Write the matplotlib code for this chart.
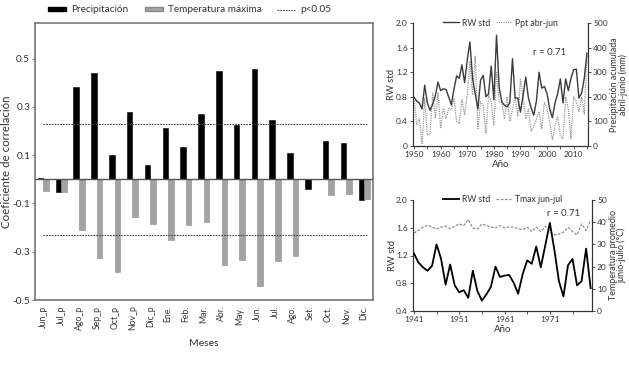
import matplotlib
matplotlib.use("Agg")
import matplotlib.pyplot as plt
from matplotlib.patches import Patch
from matplotlib.lines import Line2D
import numpy as np

plt.rcParams['font.family'] = ['Lato', 'DejaVu Sans']

# ---------------- data ----------------
meses = ["Jun_p", "Jul_p", "Ago_p", "Sep_p", "Oct_p", "Nov_p", "Dic_p", "Ene.", "Feb.",
         "Mar.", "Abr.", "May.", "Jun.", "Jul.", "Ago.", "Set.", "Oct.", "Nov.", "Dic."]
precipitacion = [0.007, -0.053, 0.38, 0.44, 0.10, 0.28, 0.057, 0.212, 0.134,
                 0.272, 0.447, 0.225, 0.455, 0.246, 0.109, -0.041, 0.157, 0.150, -0.086]
temperatura = [-0.049, -0.053, -0.21, -0.327, -0.386, -0.156, -0.186, -0.253, -0.189,
               -0.177, -0.354, -0.333, -0.444, -0.339, -0.316, 0.0, -0.067, -0.061, -0.08]
p_umbral = 0.23
yticks_corr = [-0.5, -0.3, -0.1, 0.1, 0.3, 0.5]

anios_ppt = list(range(1950, 2016))
rw_ppt = [0.79, 0.73, 0.70, 0.60, 0.99, 0.70, 0.58, 0.68, 0.82, 1.04,
          0.90, 0.93, 0.92, 0.80, 0.67, 0.92, 1.14, 1.10, 1.32, 1.03,
          1.40, 1.69, 1.10, 0.85, 0.60, 1.07, 1.15, 0.80, 0.85, 1.30,
          0.75, 1.80, 0.95, 0.72, 0.66, 0.64, 0.70, 1.42, 0.78, 0.78,
          0.55, 0.83, 1.12, 0.78, 0.62, 0.50, 0.73, 1.20, 0.94, 0.97,
          0.85, 0.60, 0.46, 0.70, 0.85, 1.09, 0.70, 1.09, 0.90, 1.10,
          1.24, 1.25, 0.78, 0.86, 1.10, 1.51]
ppt = [194, 85, 112, 10, 194, 44, 50, 215, 112, 215,
       71, 153, 112, 153, 146, 194, 100, 92, 187, 126,
       208, 344, 208, 365, 71, 180, 167, 50, 208, 180,
       85, 303, 180, 175, 110, 200, 100, 150, 200, 120,
       270, 200, 110, 150, 60, 75, 110, 140, 70, 180,
       150, 100, 25, 80, 120, 40, 30, 200, 150, 30,
       200, 180, 140, 200, 130, 370]

anios_tmax = list(range(1941, 1981))
rw_tmax = [1.23, 1.10, 1.03, 0.98, 1.05, 1.36, 1.15, 0.78, 1.07, 0.77,
           0.67, 0.70, 0.59, 0.98, 0.69, 0.55, 0.64, 0.75, 1.04, 0.89,
           0.91, 0.92, 0.81, 0.65, 0.93, 1.13, 1.08, 1.33, 1.03, 1.35,
           1.67, 1.28, 0.83, 0.61, 1.06, 1.15, 0.77, 0.83, 1.30, 0.73]
tmax = [35.1, 36.3, 37.8, 38.6, 37.8, 36.9, 37.8, 38.2, 37.1, 38.2,
        39.2, 38.5, 41.2, 37.4, 36.9, 39.2, 38.5, 37.8, 37.4, 38.5,
        37.4, 37.8, 37.8, 37.1, 36.6, 37.8, 35.8, 37.8, 35.8, 38.2,
        35.8, 34.3, 34.6, 35.5, 37.7, 35.8, 34.3, 39.2, 36.3, 40.8]

# ---------------- figure ----------------
W, H = 629, 380
fig = plt.figure(figsize=(W / 100, H / 100), dpi=100)
TXT = '#333333'

def rect(x0, y0, x1, y1):
    return [x0 / W, 1 - y1 / H, (x1 - x0) / W, (y1 - y0) / H]

# ---- left: bar chart ----
ax = fig.add_axes(rect(35, 23, 373, 300))
x = np.arange(len(meses))
bw = 0.31
ax.bar(x, precipitacion, width=-bw, align='edge', color='black', edgecolor='black', linewidth=0.4, zorder=3)
ax.bar(x, temperatura, width=bw, align='edge', color='#a3a3a3', edgecolor='#8a8a8a', linewidth=0.4, zorder=3)
ax.axhline(0, color='#555555', lw=1.0, zorder=4)
ax.axhline(p_umbral, xmin=0.024, xmax=0.985, color='#444444', lw=0.8, ls=(0, (1.5, 1.0)), zorder=5)
ax.axhline(-p_umbral, xmin=0.024, xmax=0.985, color='#444444', lw=0.8, ls=(0, (1.5, 1.0)), zorder=5)
ax.set_xlim(-0.47, 18.5)
ax.set_ylim(-0.5, 0.647)
ax.set_yticks(yticks_corr)
ax.set_yticklabels([f"{v:.1f}" for v in yticks_corr], fontsize=7.2, color=TXT)
ax.set_xticks(x)
ax.set_xticklabels(meses, rotation=90, fontsize=6.2, color=TXT)
ax.tick_params(axis='x', length=0, pad=4)
ax.tick_params(axis='y', length=2, width=0.6, pad=1.5, colors='#555555', labelcolor=TXT)
for s in ax.spines.values():
    s.set_color('#777777')
    s.set_linewidth(1.2)
ax.set_ylabel("Coeficiente de correlación", fontsize=8.3, color=TXT)
ax.yaxis.set_label_coords((12 - 35) / 338, 0.5)
ax.set_xlabel("Meses", fontsize=7.5, color=TXT, labelpad=6)

handles = [Patch(facecolor='black', edgecolor='black'),
           Patch(facecolor='#a3a3a3', edgecolor='#8a8a8a'),
           Line2D([0], [0], color='#444444', lw=0.8, ls=(0, (1.5, 1.0)))]
fig.legend(handles, ["Precipitación", "Temperatura máxima", "p<0.05"],
           loc='center', bbox_to_anchor=(190 / W, 1 - 10 / H), ncol=3, frameon=False,
           fontsize=7.2, handlelength=1.8, handleheight=0.35, columnspacing=1.6,
           handletextpad=0.5, labelcolor=TXT)

# ---- top right: RW vs precipitation ----
ax1 = fig.add_axes(rect(413, 23, 588, 146))
ax1b = ax1.twinx()
l1, = ax1.plot(anios_ppt, rw_ppt, color='#3a3a3a', lw=1.0, zorder=3)
l2, = ax1b.plot(anios_ppt, ppt, color='#9a9a9a', lw=0.9, ls=(0, (1.0, 0.8)), zorder=2)
ax1.set_zorder(ax1b.get_zorder() + 1)
ax1.patch.set_visible(False)
ax1.set_xlim(1949.6, 2015.4)
ax1.set_ylim(0, 2.0)
ax1b.set_ylim(0, 500)
ax1.set_yticks([0, 0.4, 0.8, 1.2, 1.6, 2.0])
ax1.set_yticklabels(["0", "0.4", "0.8", "1.2", "1.6", "2.0"])
ax1b.set_yticks([0, 100, 200, 300, 400, 500])
ax1.set_xticks(range(1950, 2016, 10))
ax1.set_xticks(range(1950, 2016, 5), minor=True)
ax1.set_ylabel("RW std", fontsize=6.8, color=TXT)
ax1.yaxis.set_label_coords((396 - 413) / 175, 0.5)
ax1.set_xlabel("Año", fontsize=7, color=TXT, labelpad=1)
ax1b.set_ylabel("Precipitación acumulada\nabril-junio (mm)", fontsize=6.4, color=TXT,
                linespacing=0.9)
ax1b.yaxis.set_label_coords((610 - 413) / 175, 0.5)
ax1.text(0.78, 0.76, "r = 0.71", transform=ax1.transAxes, fontsize=7, color=TXT,
         ha='center', va='center')
ax1.legend([l1, l2], ["RW std", "Ppt abr-jun"], loc='center', bbox_to_anchor=(0.5, 1.0),
           ncol=2, frameon=False, fontsize=6.2, handlelength=1.8, columnspacing=0.6,
           handletextpad=0.4, labelcolor=TXT)

# ---- bottom right: RW vs Tmax ----
ax2 = fig.add_axes(rect(413, 200, 592, 311))
ax2b = ax2.twinx()
l3, = ax2.plot(anios_tmax, rw_tmax, color='black', lw=1.3, zorder=3)
l4, = ax2b.plot(anios_tmax, tmax, color='#8f8f8f', lw=0.9, ls=(0, (2.2, 1.2)), zorder=2)
ax2.set_zorder(ax2b.get_zorder() + 1)
ax2.patch.set_visible(False)
ax2.set_xlim(1940.8, 1980.3)
ax2.set_ylim(0.4, 2.0)
ax2b.set_ylim(0, 50)
ax2.set_yticks([0.4, 0.8, 1.2, 1.6, 2.0])
ax2.set_yticklabels(["0.4", "0.8", "1.2", "1.6", "2.0"])
ax2b.set_yticks([0, 10, 20, 30, 40, 50])
ax2.set_xticks([1941, 1951, 1961, 1971])
ax2.set_xticks(range(1941, 1981, 5), minor=True)
ax2.set_ylabel("RW std", fontsize=6.8, color=TXT)
ax2.yaxis.set_label_coords((397 - 413) / 179, 0.5)
ax2.set_xlabel("Año", fontsize=7, color=TXT, labelpad=1)
ax2b.set_ylabel("Temperatura promedio\njunio-julio (°C)", fontsize=6.4, color=TXT,
                linespacing=0.9)
ax2b.yaxis.set_label_coords((609 - 413) / 179, 0.5)
ax2.text(0.84, 0.88, "r = 0.71", transform=ax2.transAxes, fontsize=7, color=TXT,
         ha='center', va='center')
ax2.legend([l3, l4], ["RW std", "Tmax jun-jul"], loc='center', bbox_to_anchor=(0.5, 1.0),
           ncol=2, frameon=False, fontsize=6.2, handlelength=1.8, columnspacing=0.6,
           handletextpad=0.4, labelcolor=TXT)

for a in (ax1, ax1b, ax2, ax2b):
    a.spines['top'].set_visible(False)
    for s in a.spines.values():
        s.set_color('#333333')
        s.set_linewidth(0.8)
    a.tick_params(axis='both', which='both', labelsize=6, colors=TXT, length=2.5,
                  width=0.6, pad=1.2)
    a.tick_params(which='minor', length=2.5)

fig.savefig("out.png", dpi=100)
